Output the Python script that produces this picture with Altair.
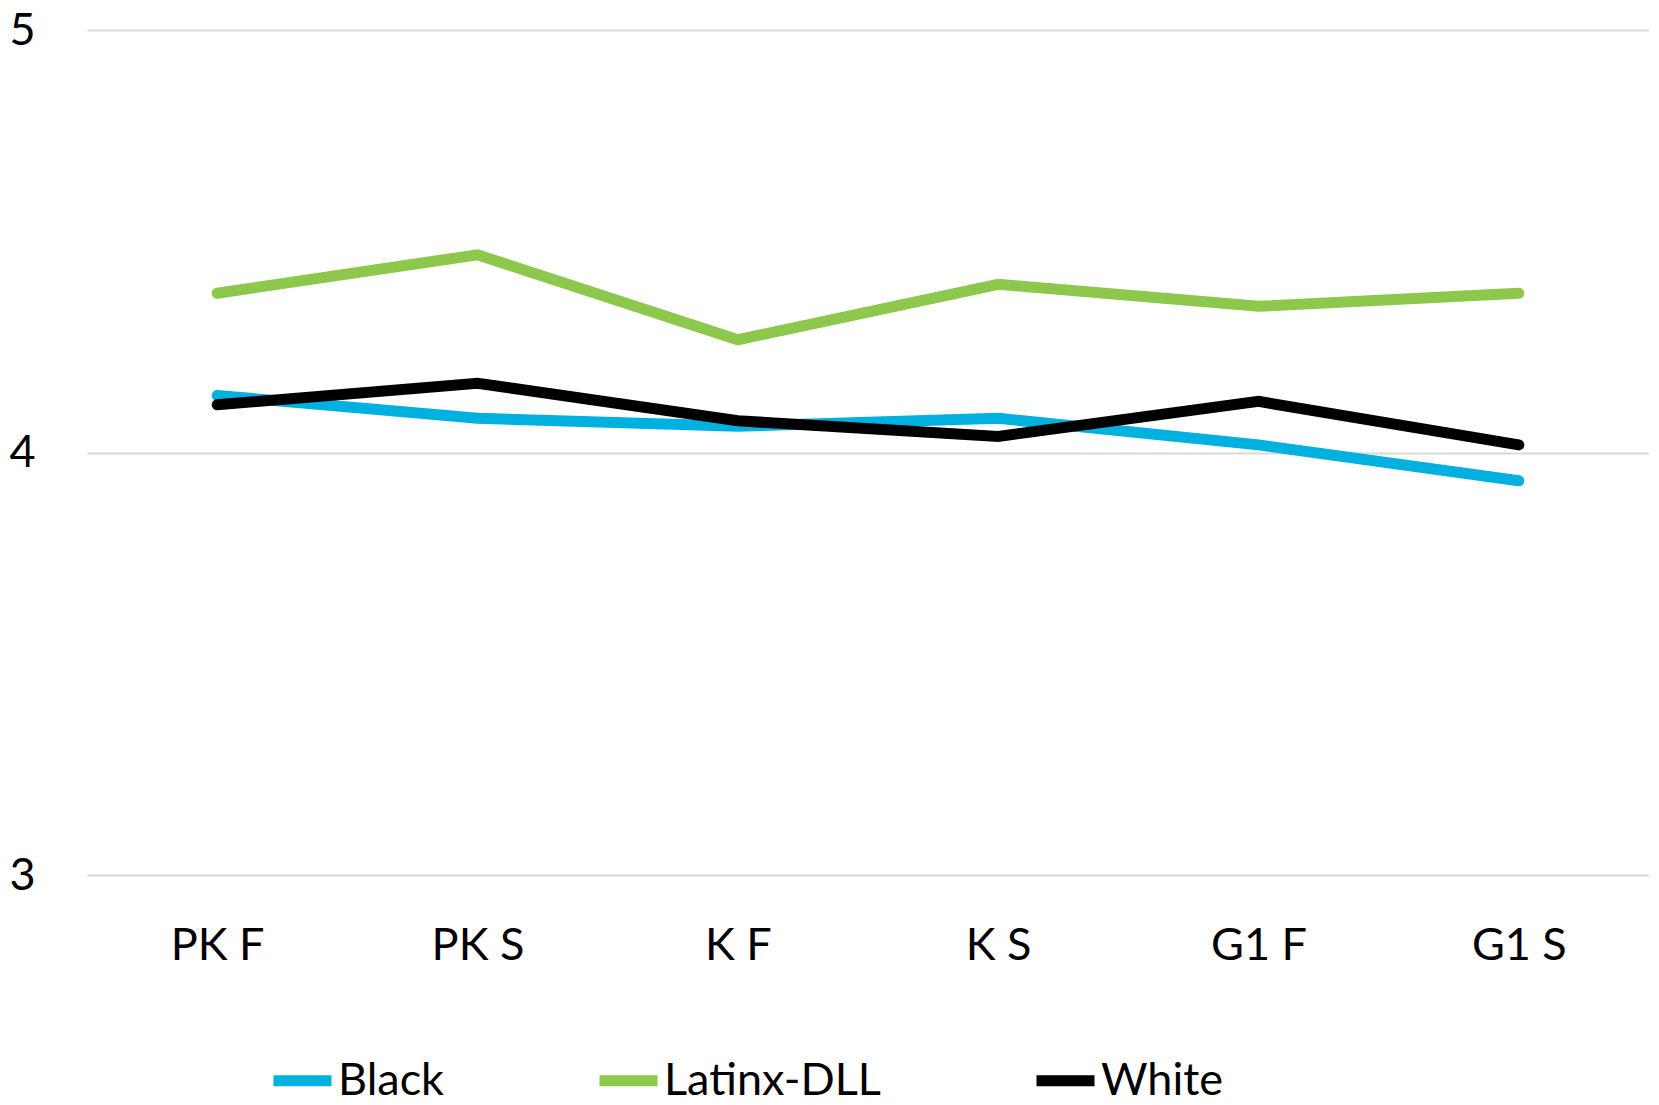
import altair as alt
import pandas as pd

categories = ["PK F", "PK S", "K F", "K S", "G1 F", "G1 S"]
black = [4.135, 4.081, 4.062, 4.081, 4.018, 3.933]
latinx = [4.377, 4.468, 4.267, 4.398, 4.346, 4.377]
white = [4.113, 4.164, 4.075, 4.038, 4.121, 4.018]
series_names = ["Black", "Latinx-DLL", "White"]
series_colors = ["#00B0DE", "#8DC74B", "#000000"]
y_ticks = [3, 4, 5]

rows = []
for name, vals in zip(series_names, [black, latinx, white]):
    for c, v in zip(categories, vals):
        rows.append({"cat": c, "value": v, "series": name})
df = pd.DataFrame(rows)

FONT = "Lato"

chart = alt.Chart(df).mark_line(strokeWidth=11, strokeCap="round").encode(
    x=alt.X("cat:N", sort=categories, scale=alt.Scale(type="point", padding=0.5),
            axis=alt.Axis(title=None, labelAngle=0, ticks=False, domain=False, grid=False,
                          labelFont=FONT, labelFontSize=45, labelColor="#000000",
                          labelBaseline="middle", labelPadding=70)),
    y=alt.Y("value:Q", scale=alt.Scale(domain=[3, 5], nice=False, zero=False),
            axis=alt.Axis(title=None, values=y_ticks, labelExpr="format(datum.value, '.0f')",
                          ticks=False, domain=False, labelOverlap=False,
                          grid=True, gridColor="#D9D9D9", gridWidth=2,
                          labelFont=FONT, labelFontSize=45, labelColor="#000000",
                          labelPadding=52, labelFlush=False)),
    color=alt.Color("series:N", scale=alt.Scale(domain=series_names, range=series_colors),
                    legend=alt.Legend(title=None, orient="none", legendX=181, legendY=1016,
                                      direction="horizontal", symbolType="stroke",
                                      symbolSize=3364, symbolStrokeWidth=11,
                                      labelFont=FONT, labelFontSize=45, labelColor="#000000",
                                      labelOffset=1, columnPadding=133, labelLimit=400)),
).properties(
    width=1562, height=845,
    padding={"left": 79, "top": 22, "right": 0, "bottom": 222},
    autosize=alt.AutoSizeParams(type="none"),
).configure_view(stroke=None)

chart.save("out.html", embed_options={"renderer": "svg", "actions": False})
